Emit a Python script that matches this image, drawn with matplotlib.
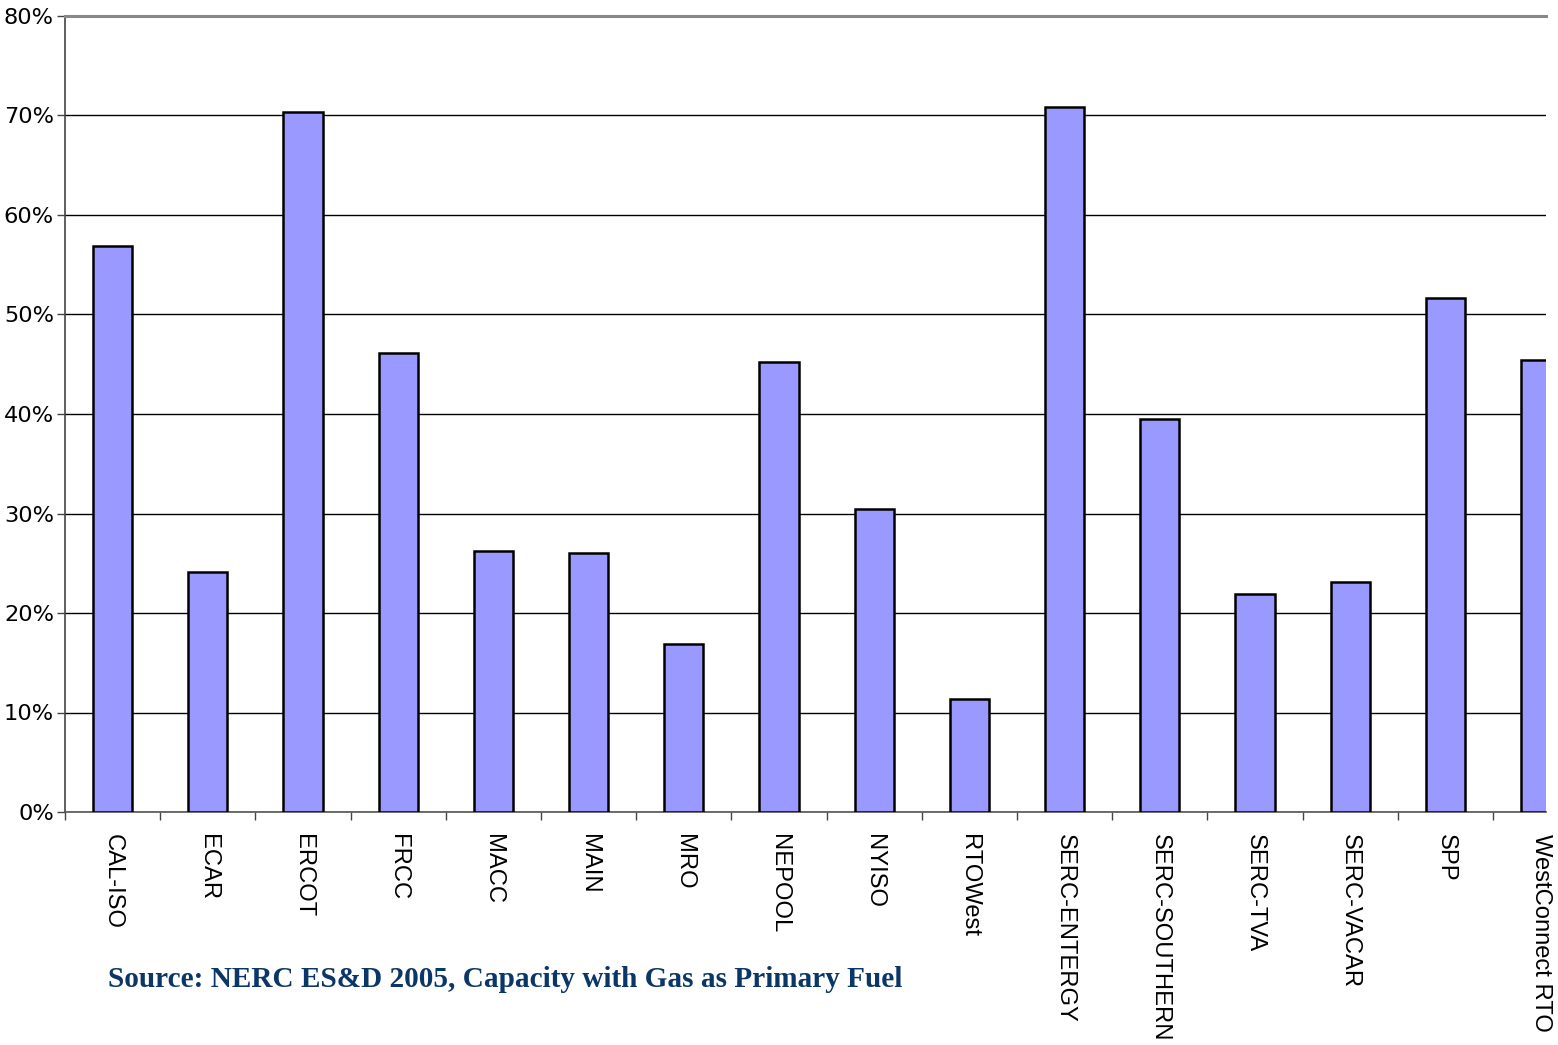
import matplotlib
matplotlib.use("Agg")
import matplotlib.pyplot as plt

regions = ["CAL-ISO", "ECAR", "ERCOT", "FRCC", "MACC", "MAIN", "MRO", "NEPOOL",
           "NYISO", "RTOWest", "SERC-ENTERGY", "SERC-SOUTHERN", "SERC-TVA",
           "SERC-VACAR", "SPP", "WestConnect RTO"]
gas_share = [56.9, 24.1, 70.4, 46.1, 26.2, 26.0, 16.9, 45.2,
             30.5, 11.4, 70.9, 39.5, 21.9, 23.1, 51.7, 45.4]
y_ticks = [0, 10, 20, 30, 40, 50, 60, 70, 80]
y_tick_labels = ["0%", "10%", "20%", "30%", "40%", "50%", "60%", "70%", "80%"]
source_text = "Source: NERC ES&D 2005, Capacity with Gas as Primary Fuel"

W, H = 1558, 1045
fig = plt.figure(figsize=(W / 100, H / 100), dpi=100)
left_px, right_px, top_px, bottom_px = 65, 1546, 16, 812
ax = fig.add_axes([left_px / W, 1 - bottom_px / H,
                   (right_px - left_px) / W, (bottom_px - top_px) / H])

cat_w = 95.2
x = list(range(len(regions)))
ax.bar(x, gas_share, width=0.41, color="#9999FF", edgecolor="black",
       linewidth=1.8, zorder=3)

ax.set_xlim(-0.5, (right_px - left_px) / cat_w - 0.5)
ax.set_ylim(0, 80)
ax.set_yticks(y_ticks)
ax.set_yticklabels(y_tick_labels, fontsize=16.2, family="DejaVu Sans")
ax.grid(axis="y", color="black", linewidth=1.0, zorder=0)
ax.set_axisbelow(True)

ax.spines["right"].set_visible(False)
ax.spines["top"].set_color("#888888")
ax.spines["top"].set_linewidth(2.2)
ax.spines["left"].set_color("#444444")
ax.spines["left"].set_linewidth(1.2)
ax.spines["bottom"].set_color("#555555")
ax.spines["bottom"].set_linewidth(1.2)

ax.set_xticks([i - 0.5 for i in range(len(regions))])
ax.set_xticklabels([])
ax.set_xticks(x, minor=True)
ax.set_xticklabels(regions, minor=True, rotation=270, fontsize=17.1,
                   family="Liberation Sans", va="top", ha="center")
ax.tick_params(axis="x", which="minor", length=0, pad=16)
ax.tick_params(axis="x", which="major", length=6, width=1.0, color="#444444")
ax.tick_params(axis="y", length=6, width=1.0, color="#444444", pad=2)

fig.text(108 / W, 1 - 987 / H, source_text, fontsize=21.1, fontweight="bold",
         family="Liberation Serif", color="#0A3768", ha="left", va="baseline")

fig.savefig("out.png", dpi=100, facecolor="white")
